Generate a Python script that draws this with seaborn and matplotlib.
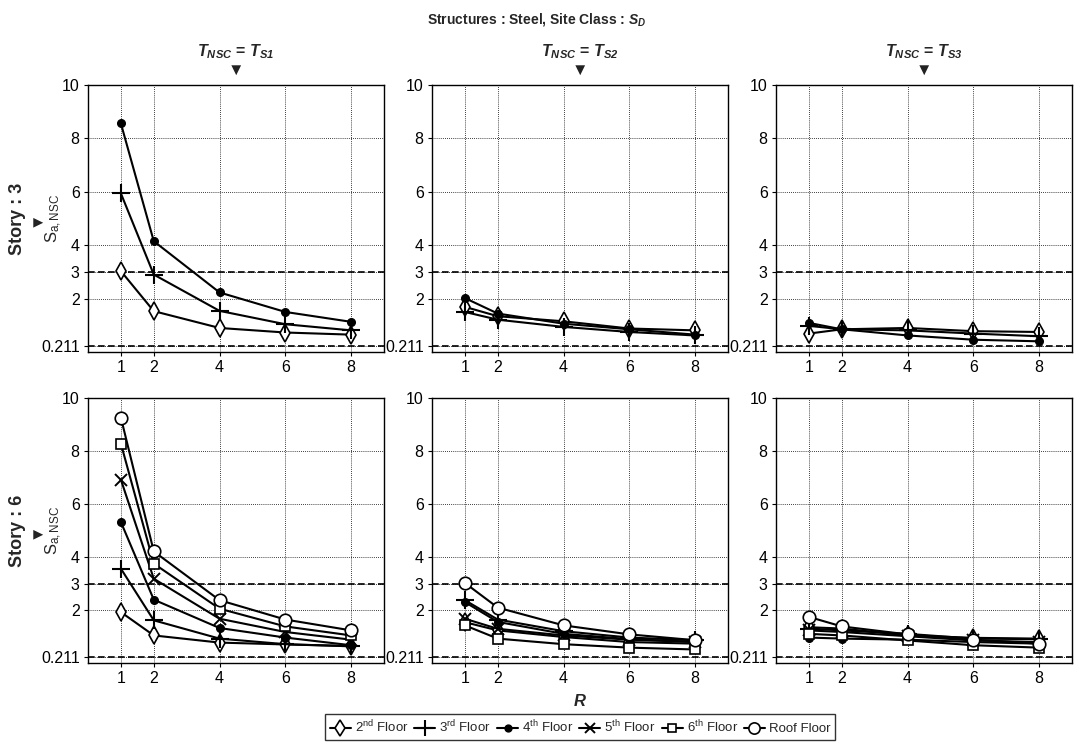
import numpy as np
import pandas as pd
import seaborn as sns
import matplotlib.pyplot as plt
from matplotlib.lines import Line2D

sns.set_style("white")
plt.rcParams['font.family'] = ['Liberation Sans', 'DejaVu Sans']
plt.rcParams['mathtext.fontset'] = 'custom'
plt.rcParams['mathtext.rm'] = 'Liberation Sans'
plt.rcParams['mathtext.it'] = 'Liberation Sans:italic'
plt.rcParams['mathtext.bf'] = 'Liberation Sans:bold'
plt.rcParams['mathtext.bfit'] = 'Liberation Sans:bold:italic'

# ---- data ----
R_values = [1, 2, 4, 6, 8]
floor_names = ["2nd Floor", "3rd Floor", "4th Floor", "5th Floor", "6th Floor", "Roof Floor"]
legend_labels = [r"2$^{\mathrm{nd}}$ Floor", r"3$^{\mathrm{rd}}$ Floor", r"4$^{\mathrm{th}}$ Floor",
                 r"5$^{\mathrm{th}}$ Floor", r"6$^{\mathrm{th}}$ Floor", "Roof Floor"]
column_titles = [r"$\mathbfit{T_{NSC}}$ = $\mathbfit{T_{S1}}$",
                 r"$\mathbfit{T_{NSC}}$ = $\mathbfit{T_{S2}}$",
                 r"$\mathbfit{T_{NSC}}$ = $\mathbfit{T_{S3}}$"]
row_titles = ["Story : 3", "Story : 6"]
y_ticks = [0.211, 2, 3, 4, 6, 8, 10]
y_ticklabels = ["0.211", "2", "3", "4", "6", "8", "10"]
limit_lines = [3, 0.211]

# 3-story building: 2nd, 3rd, 4th floor
story3_ts1 = [[3.03, 1.53, 0.90, 0.73, 0.65],
              [5.94, 2.90, 1.54, 1.04, 0.81],
              [8.56, 4.15, 2.23, 1.50, 1.13]]
story3_ts2 = [[1.69, 1.34, 1.15, 0.88, 0.81],
              [1.50, 1.21, 0.94, 0.75, 0.62],
              [2.02, 1.44, 1.06, 0.85, 0.65]]
story3_ts3 = [[0.69, 0.85, 0.90, 0.78, 0.75],
              [0.98, 0.85, 0.81, 0.69, 0.59],
              [1.09, 0.85, 0.62, 0.46, 0.40]]

# 6-story building: 2nd .. 6th floor and roof
story6_ts1 = [[1.92, 1.04, 0.77, 0.70, 0.64],
              [3.56, 1.61, 0.92, 0.71, 0.63],
              [5.32, 2.39, 1.32, 0.96, 0.67],
              [6.92, 3.18, 1.67, 1.17, 0.88],
              [8.28, 3.75, 2.05, 1.38, 1.04],
              [9.26, 4.21, 2.37, 1.64, 1.23]]
story6_ts2 = [[1.54, 1.23, 0.98, 0.79, 0.73],
              [2.37, 1.64, 1.20, 0.96, 0.86],
              [2.30, 1.55, 1.10, 0.90, 0.80],
              [1.67, 1.29, 1.04, 0.88, 0.79],
              [1.42, 0.92, 0.71, 0.58, 0.51],
              [3.02, 2.09, 1.42, 1.08, 0.86]]
story6_ts3 = [[1.35, 1.30, 1.04, 0.95, 0.92],
              [1.30, 1.23, 1.10, 0.92, 0.90],
              [0.96, 0.92, 0.88, 0.79, 0.73],
              [1.23, 1.17, 1.01, 0.85, 0.79],
              [1.10, 1.04, 0.85, 0.67, 0.58],
              [1.74, 1.38, 1.08, 0.88, 0.73]]

panels = [[story3_ts1, story3_ts2, story3_ts3],
          [story6_ts1, story6_ts2, story6_ts3]]

# marker appearance for each floor
floor_styles = [
    dict(marker='d', markersize=9, markerfacecolor='white', markeredgewidth=1.2),
    dict(marker='+', markersize=13, markeredgewidth=1.5),
    dict(marker='o', markersize=5.5, markerfacecolor='black', markeredgewidth=1.0),
    dict(marker='x', markersize=8.5, markeredgewidth=1.4),
    dict(marker='s', markersize=6.5, markerfacecolor='white', markeredgewidth=1.2),
    dict(marker='o', markersize=9, markerfacecolor='white', markeredgewidth=1.2),
]

# ---- layout (pixels) ----
W, H = 1074, 743
fig = plt.figure(figsize=(W / 100, H / 100), dpi=100)
col_left = [88, 432, 776]
ax_w = 296
row_top = [85, 398]
row_bot = [352, 663]


def rect(lpx, tpx, bpx):
    return [lpx / W, 1 - bpx / H, ax_w / W, (bpx - tpx) / H]


for r in range(2):
    for c in range(3):
        ax = fig.add_axes(rect(col_left[c], row_top[r], row_bot[r]))
        series = panels[r][c]
        n = len(series)
        df = pd.DataFrame({
            "R": R_values * n,
            "Sa": np.concatenate(series),
            "Floor": np.repeat(floor_names[:n], len(R_values)),
        })
        for i, name in enumerate(floor_names[:n]):
            sns.lineplot(data=df[df["Floor"] == name], x="R", y="Sa", ax=ax,
                         color="black", lw=1.5, markeredgecolor="black",
                         errorbar=None, legend=False, zorder=5, **floor_styles[i])
        for yv in limit_lines:
            ax.axhline(yv, color="black", ls=(0, (4, 2)), lw=1.2, zorder=3)
        ax.set_xlim(0, 9)
        ax.set_ylim(0, 10)
        ax.set_xticks(R_values)
        ax.set_yticks(y_ticks)
        ax.set_yticklabels(y_ticklabels)
        ax.grid(True, ls=(0, (1, 1.5)), color="black", lw=0.6)
        ax.tick_params(direction="out", length=3, labelsize=11.5, pad=3,
                       left=True, bottom=True, colors="black")
        ax.set_xlabel("")
        ax.set_ylabel("")
        for s in ax.spines.values():
            s.set_color("black")
            s.set_linewidth(1.0)

# column headers
for c in range(3):
    cx = (col_left[c] + ax_w / 2) / W
    fig.text(cx, 1 - 52 / H, column_titles[c], ha="center", va="center",
             fontsize=11.5, fontweight="bold")
    fig.text(cx, 1 - 70 / H, "\u25BC", ha="center", va="center", fontsize=12,
             color="#222222")

# row headers and y labels
for r in range(2):
    cy = 1 - ((row_top[r] + row_bot[r]) / 2) / H
    fig.text(18 / W, cy, row_titles[r], rotation=90, ha="center", va="center",
             fontsize=13, fontweight="bold")
    fig.text(36 / W, cy, "\u25BC", rotation=90, ha="center", va="center",
             fontsize=12, color="#222222")
    fig.text(54 / W, cy, r"S$_{\mathrm{a,NSC}}$", rotation=90, ha="center",
             va="center", fontsize=12)

# title and x label
fig.text(0.5, 1 - 20 / H, r"Structures : Steel, Site Class : $\mathbfit{S_D}$",
         ha="center", va="center", fontsize=10, fontweight="bold")
mid_cx = (col_left[1] + ax_w / 2) / W
fig.text(mid_cx, 1 - 701 / H, "R", ha="center", va="center", fontsize=12,
         fontweight="bold", fontstyle="italic")

# legend
handles = [Line2D([], [], color="black", lw=1.5, markeredgecolor="black",
                  **{**st, "markersize": st["markersize"] * 0.9})
           for st in floor_styles]
leg = fig.legend(handles, legend_labels, loc="center",
                 bbox_to_anchor=(mid_cx, 1 - 727 / H), ncol=6, frameon=True,
                 fancybox=False, edgecolor="black", fontsize=9.5,
                 handlelength=1.6, handletextpad=0.3, columnspacing=0.45,
                 borderpad=0.35, borderaxespad=0)
leg.get_frame().set_linewidth(1.0)

fig.savefig("out.png", dpi=100)
